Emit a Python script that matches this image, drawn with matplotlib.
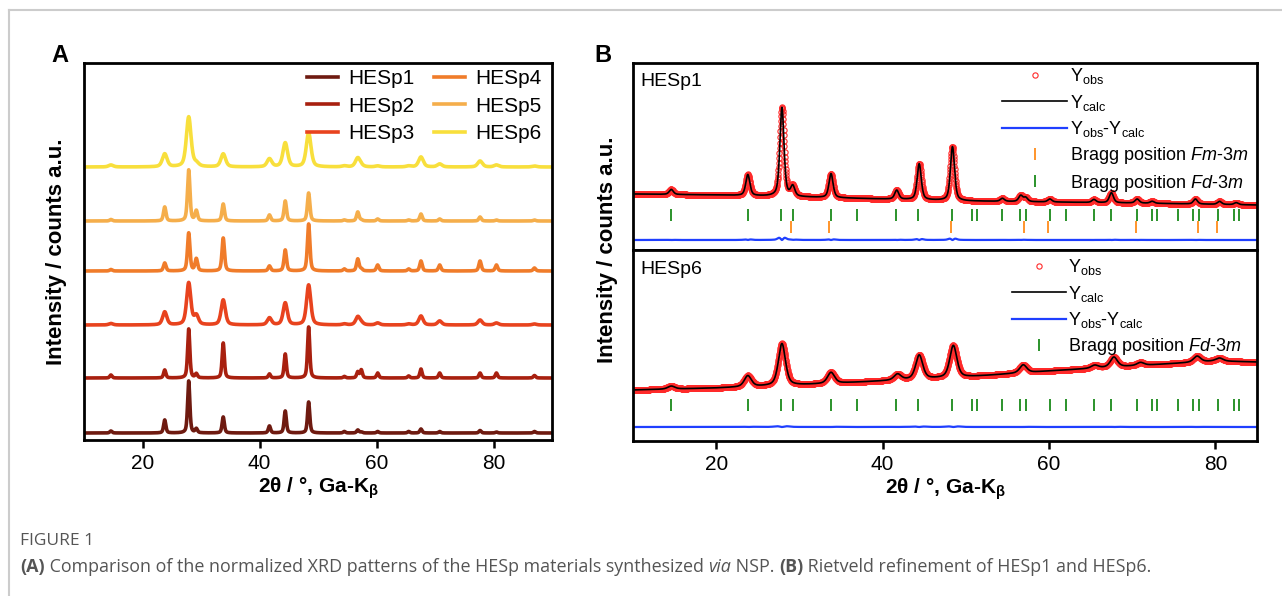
import numpy as np
import matplotlib
matplotlib.use("Agg")
import matplotlib.pyplot as plt
from matplotlib.lines import Line2D

plt.rcParams["font.family"] = ["Liberation Sans", "DejaVu Sans"]
plt.rcParams["mathtext.fontset"] = "custom"
plt.rcParams["mathtext.rm"] = "Liberation Sans"
plt.rcParams["mathtext.it"] = "Liberation Sans:italic"
plt.rcParams["mathtext.bf"] = "Liberation Sans:bold"

# ---- panel A: peak table (2theta, height above baseline)
a_names = ["HESp1", "HESp2", "HESp3", "HESp4", "HESp5", "HESp6"]
a_colors = ["#6e1a10", "#a8200f", "#e8431e", "#f07c2a", "#f5ae4b", "#f8df3c"]
a_peaks = [14.6, 23.8, 27.9, 29.2, 33.8, 41.7, 44.4, 48.4, 54.5, 56.8,
           57.4, 60.2, 65.5, 67.6, 70.8, 77.7, 80.5, 87.0]
hesp1_a = [2, 13, 52, 4, 16, 7, 22, 31, 1.5, 3, 1, 1.5, 1.5, 4, 1.5, 2.5, 1, 1.5]
hesp2_a = [3, 8, 49, 4, 35, 4, 24, 51, 1.5, 6, 8, 5, 2, 9, 5, 5, 5, 2.5]
hesp3_a = [1.5, 13, 42, 9, 25, 7, 22, 40, 1, 8, 2, 2, 1, 9, 4, 5, 2, 1]
hesp4_a = [1.5, 8, 38, 12, 33, 5, 21, 47, 2, 12, 2, 6, 2, 10, 6, 10, 6, 3]
hesp5_a = [1.5, 14, 51, 10, 17, 6, 20, 28, 1, 9, 1, 2, 1, 7, 2, 4, 1, 1]
hesp6_a = [2, 13, 50, 3, 13, 8, 24, 34, 1, 9, 1, 1, 1, 10, 3, 6, 2, 1]
a_heights = [hesp1_a, hesp2_a, hesp3_a, hesp4_a, hesp5_a, hesp6_a]
a_widths = [0.45, 0.45, 0.85, 0.5, 0.5, 0.95]
a_offsets = [7, 62, 115, 169, 219, 273]

# ---- panel B: Rietveld plots
b1_peaks = [14.6, 23.8, 27.9, 29.2, 33.8, 41.7, 44.4, 48.4, 54.4, 56.6,
            57.2, 60.1, 65.4, 67.5, 70.6, 72.4, 77.6, 80.5, 82.5]
b1_heights = [5, 21, 89, 10, 24, 9, 36, 54, 3, 6, 4, 3, 3, 10, 4, 2, 5, 3, 2]
b1_bg_x = [10, 20, 30, 40, 50, 60, 70, 85]
b1_bg_y = [56, 55, 53, 51, 49, 48, 47, 45]

b6_peaks = [14.6, 23.8, 27.9, 33.8, 41.8, 44.4, 48.5, 56.9, 65.5, 67.8,
            71.0, 77.8, 80.5]
b6_heights = [3, 11, 42, 11, 6, 24, 32, 8, 3, 10, 3, 6, 3]
b6_bg_x = [10, 20, 30, 40, 50, 60, 70, 80, 85]
b6_bg_y = [51, 53, 56, 60, 64, 70, 75, 80, 79]

fd3m_pos = [14.6, 23.8, 27.8, 29.2, 33.8, 36.9, 41.6, 44.2, 48.3, 50.7,
            51.4, 54.4, 56.5, 57.2, 60.1, 62.1, 65.4, 67.4, 70.6, 72.4,
            73.0, 75.5, 77.3, 78.0, 80.3, 82.2, 82.8]
fm3m_pos = [29.0, 33.6, 48.2, 57.0, 59.9, 70.5, 77.9, 80.2]


def profile(x, pos, hts, fwhm, eta=0.5):
    y = np.zeros_like(x)
    for p, h in zip(pos, hts):
        d = (x - p) / (fwhm / 2)
        y += h * (eta / (1 + d ** 2) + (1 - eta) * np.exp(-np.log(2) * d ** 2))
    return y


W, H = 1282, 596
fig = plt.figure(figsize=(W / 100, H / 100), dpi=100)


def rect(l, t, r, b):
    return [l / W, 1 - b / H, (r - l) / W, (b - t) / H]


# ---------------- panel A
axA = fig.add_axes(rect(84, 63, 552, 440))
xa = np.arange(10, 90.001, 0.02)
for name, col, hts, w, off in zip(a_names, a_colors, a_heights, a_widths, a_offsets):
    axA.plot(xa, off + profile(xa, a_peaks, hts, w), color=col, lw=2.6, label=name)
axA.set_xlim(10, 90)
axA.set_ylim(0, 377)
axA.set_yticks([])
axA.set_xticks([20, 40, 60, 80])
axA.tick_params(axis="x", direction="out", length=6, width=1.8, labelsize=15, pad=4)
for s in axA.spines.values():
    s.set_linewidth(2)
axA.set_xlabel("2θ / °, Ga-K$_\\mathbf{\\beta}$", fontsize=15, fontweight="bold", labelpad=2)
axA.set_ylabel("Intensity / counts a.u.", fontsize=16, fontweight="bold", labelpad=12)
axA.legend(loc="upper right", ncol=2, frameon=False, fontsize=15, handlelength=1.5,
           handletextpad=0.5, columnspacing=0.9, labelspacing=0.42,
           borderaxespad=0.1, bbox_to_anchor=(1.0, 1.012))

# ---------------- panel B
xb = np.arange(10, 85.001, 0.03)

axB1 = fig.add_axes(rect(633, 63, 1257, 250))
bg1 = np.interp(xb, b1_bg_x, b1_bg_y)
obs1 = bg1 + profile(xb, b1_peaks, b1_heights, 0.62)
calc1 = bg1 + profile(xb, b1_peaks, b1_heights, 0.58)
axB1.plot(xb, obs1, "o", ms=3.8, mfc="none", mec="#ff2a2a", mew=0.8, label="Y$_\\mathregular{obs}$")
axB1.plot(xb, calc1, color="black", lw=1.2, label="Y$_\\mathregular{calc}$")
axB1.plot(xb, 10 + 0.6 * (obs1 - calc1), color="#1f3fff", lw=1.6,
          label="Y$_\\mathregular{obs}$-Y$_\\mathregular{calc}$")
axB1.plot(fm3m_pos, np.full(len(fm3m_pos), 23.5), "|", ms=8, mew=1.3, color="#ff8c1a",
          label="Bragg position $\\mathit{Fm}$-$\\mathit{3m}$")
axB1.plot(fd3m_pos, np.full(len(fd3m_pos), 35), "|", ms=8, mew=1.3, color="#1a8a1a",
          label="Bragg position $\\mathit{Fd}$-$\\mathit{3m}$")
axB1.set_xlim(10, 85)
axB1.set_ylim(0, 187)
axB1.set_xticks([])
axB1.set_yticks([])
axB1.text(0.012, 0.9, "HESp1", transform=axB1.transAxes, fontsize=14, va="center")
leg1 = axB1.legend(loc="upper left", bbox_to_anchor=(0.58, 1.02), frameon=False, fontsize=13,
                   handlelength=3.6, handletextpad=0.15, labelspacing=0.35, borderaxespad=0)
for t in leg1.get_texts():
    t.set_clip_box(axB1.bbox)
    t.set_clip_on(True)

axB6 = fig.add_axes(rect(633, 250, 1257, 441))
bg6 = np.interp(xb, b6_bg_x, b6_bg_y)
obs6 = bg6 + profile(xb, b6_peaks, b6_heights, 1.05)
calc6 = bg6 + profile(xb, b6_peaks, b6_heights, 1.0)
axB6.plot(xb, obs6, "o", ms=3.8, mfc="none", mec="#ff2a2a", mew=0.8, label="Y$_\\mathregular{obs}$")
axB6.plot(xb, calc6, color="black", lw=1.2, label="Y$_\\mathregular{calc}$")
axB6.plot(xb, 14 + 0.6 * (obs6 - calc6), color="#1f3fff", lw=1.6,
          label="Y$_\\mathregular{obs}$-Y$_\\mathregular{calc}$")
axB6.plot(fd3m_pos, np.full(len(fd3m_pos), 36), "|", ms=8, mew=1.3, color="#1a8a1a",
          label="Bragg position $\\mathit{Fd}$-$\\mathit{3m}$")
axB6.set_xlim(10, 85)
axB6.set_ylim(0, 191)
axB6.set_yticks([])
axB6.set_xticks([20, 40, 60, 80])
axB6.tick_params(axis="x", direction="out", length=6, width=1.8, labelsize=15, pad=4)
axB6.text(0.012, 0.9, "HESp6", transform=axB6.transAxes, fontsize=14, va="center")
axB6.legend(loc="upper left", bbox_to_anchor=(0.595, 1.0), frameon=False, fontsize=13,
            handlelength=3.0, handletextpad=0.15, labelspacing=0.35, borderaxespad=0)
axB6.set_xlabel("2θ / °, Ga-K$_\\mathbf{\\beta}$", fontsize=15, fontweight="bold", labelpad=2)
for ax in (axB1, axB6):
    for s in ax.spines.values():
        s.set_linewidth(2)
fig.text(607 / W, 1 - 250 / H, "Intensity / counts a.u.", rotation=90, fontsize=16,
         fontweight="bold", ha="center", va="center")

# panel letters
fig.text(60 / W, 1 - 55 / H, "A", fontsize=17, fontweight="bold", ha="center", va="center")
fig.text(603 / W, 1 - 55 / H, "B", fontsize=17, fontweight="bold", ha="center", va="center")

# page frame
fig.add_artist(Line2D([9 / W, 9 / W], [0, 1 - 10 / H], color="#cccccc", lw=1.5))
fig.add_artist(Line2D([9 / W, 1], [1 - 10 / H, 1 - 10 / H], color="#cccccc", lw=1.5))

# caption
cap_font = ["Open Sans", "DejaVu Sans"]
fig.text(20 / W, 1 - 541 / H, "FIGURE 1", fontsize=12.5, color="#555555", family=cap_font,
         va="center")
pieces = [("(A)", "bold", "normal"),
          (" Comparison of the normalized XRD patterns of the HESp materials synthesized ", "normal", "normal"),
          ("via", "normal", "italic"),
          (" NSP. ", "normal", "normal"),
          ("(B)", "bold", "normal"),
          (" Rietveld refinement of HESp1 and HESp6.", "normal", "normal")]
renderer = fig.canvas.get_renderer()
xpos = 20
for txt, wt, st in pieces:
    t = fig.text(xpos / W, 1 - 567 / H, txt, fontsize=12.85, color="#555555", family=cap_font,
                 fontweight=wt, fontstyle=st, va="center")
    xpos += t.get_window_extent(renderer).width

fig.savefig("out.png", dpi=100)
